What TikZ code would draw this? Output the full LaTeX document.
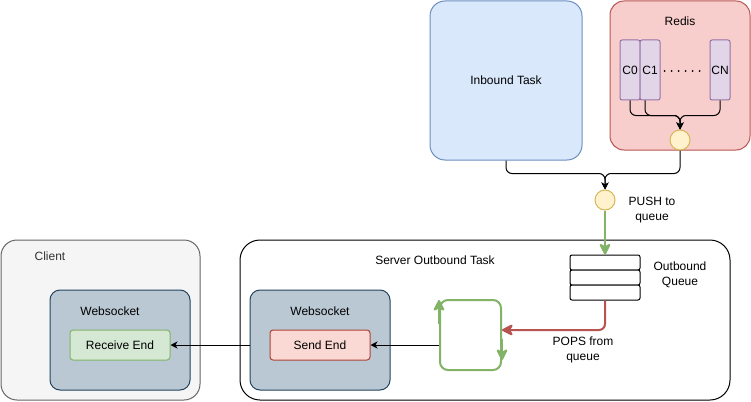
\documentclass[tikz,border=0pt]{standalone}
\usepackage{fontspec}
\setmainfont{Liberation Sans}
\usetikzlibrary{arrows.meta,calc}
\definecolor{inbfill}{HTML}{DAE8FC}
\definecolor{inbdraw}{HTML}{6C8EBF}
\definecolor{redfill}{HTML}{F8CECC}
\definecolor{reddraw}{HTML}{B85450}
\definecolor{purfill}{HTML}{E1D5E7}
\definecolor{purdraw}{HTML}{9673A6}
\definecolor{yelfill}{HTML}{FFF2CC}
\definecolor{yeldraw}{HTML}{D6B656}
\definecolor{grnfill}{HTML}{D5E8D4}
\definecolor{grndraw}{HTML}{82B366}
\definecolor{wsfill}{HTML}{BAC8D3}
\definecolor{wsdraw}{HTML}{23445D}
\definecolor{sendfill}{HTML}{FAD9D5}
\definecolor{senddraw}{HTML}{AE4132}
\definecolor{clifill}{HTML}{F5F5F5}
\definecolor{clidraw}{HTML}{666666}
\definecolor{clitext}{HTML}{333333}
\tikzset{
  base/.style={draw, inner sep=0pt, line width=1pt, align=center},
  lbl/.style={inner sep=0pt, align=center},
  cbox/.style={base, fill=purfill, draw=purdraw, rounded corners=2, minimum width=20, minimum height=60},
  dot/.style={base, circle, fill=yelfill, draw=yeldraw, minimum size=20},
  qbox/.style={base, fill=white, draw=black, rounded corners=2, minimum width=70, minimum height=15},
  wsbox/.style={base, fill=wsfill, draw=wsdraw, rounded corners=10, minimum width=140, minimum height=100},
  endbox/.style={base, rounded corners=3, minimum width=100, minimum height=30},
  conn/.style={line width=1pt, -{Stealth[length=7pt,width=7pt,inset=2pt]}},
  bigtip/.tip={Stealth[length=13pt 0 0,width=13pt 0 0,inset=3.5pt 0 0,round]},
  garrow/.style={line width=2pt, draw=grndraw, -bigtip},
  rarrow/.style={line width=2pt, draw=reddraw, -bigtip},
  dotline/.style={line width=2pt, line cap=round, dash pattern=on 0pt off 7pt},
}
\begin{document}
\begin{tikzpicture}[x=1pt,y=-1pt, font=\fontsize{12}{14.5}\selectfont]
\useasboundingbox (0,0) rectangle (751,401);
% top boxes
\node[base, fill=inbfill, draw=inbdraw, rounded corners=15, minimum width=152, minimum height=159] (inb) at (506,80.5) {Inbound Task};
\node[base, fill=redfill, draw=reddraw, rounded corners=14, minimum width=140, minimum height=149] (redis) at (680,75.5) {};
\node[lbl] (redislbl) at (680,21) {Redis};
\node[cbox] (c0) at (630,70) {C0};
\node[cbox] (c1) at (650,70) {C1};
\node[cbox] (cn) at (720,70) {CN};
\draw[dotline] ([xshift=4pt,yshift=-1pt]c1.east) -- ([xshift=-3pt,yshift=-1pt]cn.west);
\node[dot] (rc) at (680,140) {};
\node[dot] (pc) at (605,200) {};
\node[lbl] (pushlbl) at (652,210) {PUSH to\\queue};
% server
\node[base, fill=white, draw=black, rounded corners=20, minimum width=490, minimum height=160] (srv) at (485,320) {};
\node[lbl] (srvlbl) at (435,260) {Server Outbound Task};
\node[qbox] (q1) at (605,262.5) {};
\node[qbox] (q2) at (605,277.5) {};
\node[qbox] (q3) at (605,292.5) {};
\node[lbl] (qlbl) at (680,275) {Outbound\\Queue};
\node[lbl] (popslbl) at (583,350) {POPS from\\queue};
\node[base, draw=grndraw, line width=2pt, rounded corners=8, minimum width=61, minimum height=70] (loop) at (470.5,335) {};
\node[wsbox] (wss) at (320,340) {};
\node[lbl] (wsslbl) at (320,311) {Websocket};
\node[endbox, fill=sendfill, draw=senddraw] (send) at (320,345) {Send End};
% client
\node[base, fill=clifill, draw=clidraw, rounded corners=16, minimum width=199, minimum height=160] (cli) at (100.5,320) {};
\node[lbl, text=clitext] (clilbl) at (50,256) {Client};
\node[wsbox] (wsc) at (120,340) {};
\node[lbl] (wsclbl) at (110,311) {Websocket};
\node[endbox, fill=grnfill, draw=grndraw] (recv) at (120,345) {Receive End};
% connectors
\draw[conn, rounded corners=6] (c0.south) -- ++(0,15) -| (rc.north);
\draw[conn, rounded corners=6] ([xshift=-5pt]c1.south) -- ++(0,15) -| (rc.north);
\draw[conn, rounded corners=6] (cn.south) -- ++(0,15) -| (rc.north);
\draw[conn, rounded corners=6] (inb.south) -- ++(0,13) -| (pc.north);
\draw[conn, rounded corners=6] (rc.south) -- ++(0,23) -| (pc.north);
\draw[garrow] (pc.south) -- (q1.north);
\draw[rarrow, rounded corners=6] (q3.south) |- ([yshift=5pt]loop.east);
\draw[garrow] ([yshift=-25pt]loop.north west) -- ([yshift=-1pt]loop.north west);
\draw[garrow] ([yshift=-40pt]loop.north east) -- ([yshift=11pt]loop.south east);
\draw[conn] ([yshift=-10pt]loop.west) -- (send.east);
\draw[conn] (wss.west |- recv.east) -- (recv.east);
\end{tikzpicture}
\end{document}
